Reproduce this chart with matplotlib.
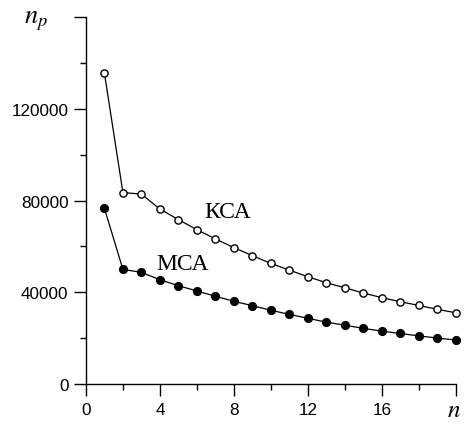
import matplotlib.pyplot as plt
import numpy as np

# dati
n = np.arange(1, 21)
ksa = [135500, 83500, 82800, 76300, 71700, 67300, 63300, 59500, 56000, 52600,
       49700, 46800, 44200, 42000, 39700, 37700, 35900, 34300, 32600, 31100]
msa = [76600, 50000, 48700, 45500, 42900, 40600, 38300, 36100, 34200, 32200,
       30400, 28700, 27000, 25700, 24300, 23100, 22100, 21000, 20100, 19200]
xticks = [0, 4, 8, 12, 16, 20]
xlabels = ['0', '4', '8', '12', '16', '']
yticks = [0, 40000, 80000, 120000, 160000]
ylabels = ['0', '40000', '80000', '120000', '']

plt.rcParams['mathtext.fontset'] = 'stix'

fig = plt.figure(figsize=(4.67, 4.27), dpi=100)
ax = fig.add_axes([0.184, 0.098, 0.792, 0.86])

ax.plot(n, ksa, color='black', lw=0.9, marker='o', markersize=5.2,
        markerfacecolor='white', markeredgecolor='black', markeredgewidth=1.0,
        clip_on=False, zorder=3)
ax.plot(n, msa, color='black', lw=0.9, marker='o', markersize=5.6,
        markerfacecolor='black', markeredgecolor='black',
        clip_on=False, zorder=3)

ax.set_xlim(0, 20)
ax.set_ylim(0, 160000)
ax.spines['top'].set_visible(False)
ax.spines['right'].set_visible(False)
for s in ('left', 'bottom'):
    ax.spines[s].set_linewidth(1.0)

ax.set_xticks(xticks)
ax.set_xticklabels(xlabels)
ax.set_yticks(yticks)
ax.set_yticklabels(ylabels)
ax.set_xticks(np.arange(0, 21, 2), minor=True)
ax.set_yticks(np.arange(0, 160001, 20000), minor=True)
ax.tick_params(which='major', direction='out', length=8.5, width=1.0,
               labelsize=12.3, pad=4)
ax.tick_params(which='minor', direction='out', length=4.5, width=1.0)
for lab in ax.get_xticklabels() + ax.get_yticklabels():
    lab.set_family('Liberation Sans')

# etichette degli assi al posto dell'ultimo tick
ax.text(-0.135, 0.995, '$n_p$', transform=ax.transAxes, fontsize=19,
        ha='center', va='center')
ax.text(0.995, -0.035, '$n$', transform=ax.transAxes, fontsize=18,
        ha='center', va='top')

ax.text(6.4, 75400, 'КСА', family='Liberation Serif', fontsize=17,
        ha='left', va='center')
ax.text(3.8, 52500, 'МСА', family='Liberation Serif', fontsize=17,
        ha='left', va='center')

fig.savefig('out.png', dpi=100)
